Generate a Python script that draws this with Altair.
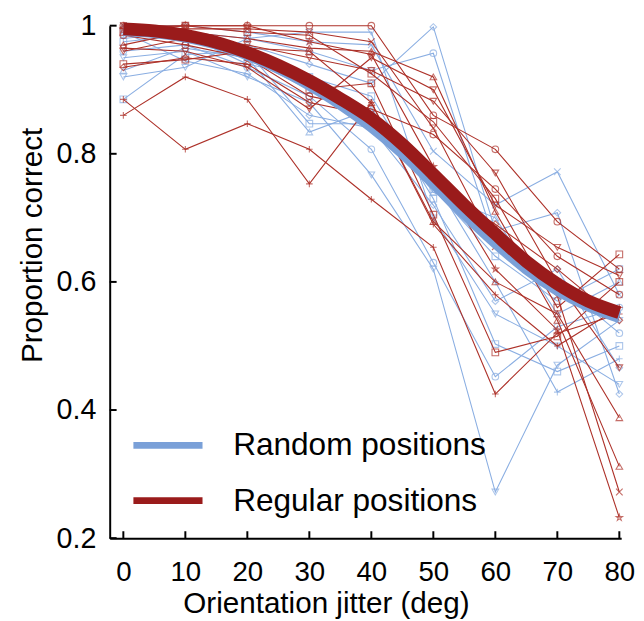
import altair as alt
import pandas as pd

# ---------------- data ----------------
jitter = [0, 10, 20, 30, 40, 50, 60, 70, 80]
group_names = ["Random positions", "Regular positions"]

random_subjects = [
    [0.985, 0.980, 0.970, 0.940, 0.910, 0.998, 0.680, 0.708, 0.425],
    [0.995, 0.990, 0.980, 0.960, 0.930, 0.957, 0.660, 0.600, 0.520],
    [1.000, 1.000, 0.990, 0.975, 0.970, 0.804, 0.720, 0.772, 0.580],
    [0.885, 0.955, 0.960, 0.847, 0.847, 0.745, 0.640, 0.570, 0.620],
    [0.930, 0.965, 0.950, 0.834, 0.870, 0.740, 0.700, 0.550, 0.600],
    [0.950, 0.960, 0.920, 0.880, 0.767, 0.620, 0.272, 0.470, 0.540],
    [0.960, 0.970, 0.935, 0.890, 0.807, 0.630, 0.452, 0.530, 0.560],
    [0.975, 0.985, 0.940, 0.920, 0.890, 0.730, 0.503, 0.460, 0.500],
    [0.980, 0.990, 0.950, 0.900, 0.850, 0.760, 0.600, 0.428, 0.480],
    [0.990, 0.945, 0.925, 0.860, 0.840, 0.720, 0.570, 0.620, 0.466],
    [0.920, 0.935, 0.980, 0.990, 0.990, 0.700, 0.550, 0.500, 0.440],
]

regular_subjects = [
    [1.000, 1.000, 1.000, 1.000, 1.000, 0.860, 0.807, 0.694, 0.620],
    [0.990, 1.000, 0.990, 0.985, 0.925, 0.850, 0.730, 0.560, 0.643],
    [0.970, 0.990, 0.980, 0.965, 0.960, 0.920, 0.710, 0.540, 0.312],
    [0.960, 0.980, 0.970, 0.950, 0.930, 0.882, 0.770, 0.600, 0.466],
    [0.860, 0.920, 0.885, 0.753, 0.880, 0.690, 0.580, 0.500, 0.560],
    [0.885, 0.807, 0.847, 0.807, 0.729, 0.654, 0.425, 0.520, 0.550],
    [1.000, 0.995, 0.995, 0.990, 0.975, 0.840, 0.655, 0.578, 0.272],
    [0.995, 1.000, 1.000, 0.975, 0.955, 0.780, 0.620, 0.525, 0.232],
    [0.940, 0.947, 0.960, 0.900, 0.910, 0.705, 0.490, 0.515, 0.600],
    [0.985, 0.970, 0.950, 0.890, 0.870, 0.830, 0.745, 0.640, 0.580],
    [0.935, 0.950, 0.940, 0.880, 0.860, 0.750, 0.690, 0.620, 0.540],
    [0.965, 0.960, 0.935, 0.870, 0.950, 0.900, 0.720, 0.654, 0.610],
    [1.000, 0.975, 0.965, 0.960, 0.880, 0.694, 0.600, 0.550, 0.388],
]

fit_jitter = [0, 5, 10, 15, 20, 25, 30, 35, 40, 45, 50, 55, 60, 65, 70, 75, 80]
fit_random = [0.993, 0.990, 0.983, 0.972, 0.955, 0.934, 0.908, 0.878, 0.843,
              0.802, 0.755, 0.707, 0.662, 0.621, 0.588, 0.563, 0.545]
fit_regular = [0.995, 0.992, 0.985, 0.974, 0.958, 0.938, 0.914, 0.886, 0.855,
               0.815, 0.768, 0.720, 0.675, 0.632, 0.597, 0.570, 0.552]

x_ticks = [0, 10, 20, 30, 40, 50, 60, 70, 80]
y_ticks = [0.2, 0.4, 0.6, 0.8, 1.0]

# ---------------- styles ----------------
PLUS = "M-1,0L1,0M0,-1L0,1"
XMARK = "M-1,-1L1,1M-1,1L1,-1"
STAR = ("M0,-1L0.22,-0.31L0.95,-0.31L0.36,0.12L0.59,0.81L0,0.38L-0.59,0.81"
        "L-0.36,0.12L-0.95,-0.31L-0.22,-0.31Z")
marker_cycle = ["diamond", "circle", XMARK, "square", "triangle-up", "triangle-down",
                "circle", "square", PLUS, "diamond", "triangle-down", "triangle-up", STAR]
red_markers = ["circle", "square", "triangle-up", "triangle-down", PLUS, PLUS, XMARK,
               STAR, "square", "circle", "diamond", "triangle-down", "triangle-up"]

BLUE_THIN = "#8aaee2"
RED_THIN = "#ad3129"
BLUE_THICK = "#7aa0d8"
RED_THICK = "#9a1b1b"
FONT = "Liberation Sans"

rows = []
for gi, (g, subjects, mk) in enumerate([(group_names[0], random_subjects, marker_cycle),
                                        (group_names[1], regular_subjects, red_markers)]):
    for si, vals in enumerate(subjects):
        for x, v in zip(jitter, vals):
            rows.append({"group": g, "subject": f"{gi}-{si}", "marker": mk[si % len(mk)],
                         "jitter": x, "prop": v})
subj_df = pd.DataFrame(rows)

fit_rows = []
for g, vals in [(group_names[0], fit_random), (group_names[1], fit_regular)]:
    for x, v in zip(fit_jitter, vals):
        fit_rows.append({"group": g, "jitter": x, "prop": v})
fit_df = pd.DataFrame(fit_rows)

TOP = 14
LEFT = 103
W, H = 518, 519
xs = alt.Scale(domain=[-2.2, 80.3], nice=False, zero=False)
ys = alt.Scale(domain=[0.2, 1.0], nice=False, zero=False)

X = alt.X("jitter:Q", scale=xs,
          axis=alt.Axis(values=x_ticks, title="Orientation jitter (deg)", ticks=False,
                        labelPadding=21, titlePadding=2, grid=False, labelFontSize=28,
                        titleX=219, titleAnchor="middle"))
Y = alt.Y("prop:Q", scale=ys,
          axis=alt.Axis(values=y_ticks, format="~g", title="Proportion correct", ticks=False,
                        labelPadding=14, titlePadding=9, grid=False, labelFontSize=29,
                        titleFontSize=30, titleY=222, titleAnchor="middle"))

base = alt.Chart(subj_df)


def thin_layer(gname, color):
    d = base.transform_filter(alt.datum.group == gname)
    line = d.mark_line(strokeWidth=1.1, color=color, clip=False).encode(
        x=X, y=Y, detail="subject:N", order="jitter:Q")
    pts = d.mark_point(filled=False, size=45, strokeWidth=1.1, color=color, clip=False).encode(
        x="jitter:Q", y="prop:Q", shape=alt.Shape("marker:N", scale=None, legend=None))
    return line + pts


blue_thin = thin_layer(group_names[0], BLUE_THIN)
red_thin = thin_layer(group_names[1], RED_THIN)

color_scale = alt.Scale(domain=group_names, range=[BLUE_THICK, RED_THICK])
fit_base = alt.Chart(fit_df)
blue_fit = fit_base.transform_filter(alt.datum.group == group_names[0]).mark_line(
    strokeWidth=12, interpolate="monotone", strokeCap="butt").encode(
    x="jitter:Q", y="prop:Q", color=alt.Color("group:N", scale=color_scale, legend=None))
red_fit = fit_base.transform_filter(alt.datum.group == group_names[1]).mark_line(
    strokeWidth=13, interpolate="monotone", strokeCap="butt").encode(
    x="jitter:Q", y="prop:Q", color=alt.Color("group:N", scale=color_scale, legend=None))

# inward tick marks
xt = alt.Chart(pd.DataFrame({"t": x_ticks})).mark_rule(color="black", strokeWidth=2).encode(
    x="t:Q", y=alt.value(H), y2=alt.value(H - 7))
yt = alt.Chart(pd.DataFrame({"t": y_ticks})).mark_rule(color="black", strokeWidth=2).encode(
    y="t:Q", x=alt.value(0), x2=alt.value(7))

# manual legend
leg_df = pd.DataFrame({"group": group_names})
leg_rows = []
for i, gname in enumerate(group_names):
    yy = 447 - 8 - TOP + 56 * i
    d = alt.Chart(leg_df).transform_filter(alt.datum.group == gname)
    leg_rows.append(d.mark_rule(strokeWidth=7).encode(
        x=alt.value(24), x2=alt.value(94), y=alt.value(yy),
        color=alt.Color("group:N", scale=color_scale, legend=None)))
    leg_rows.append(d.mark_text(align="left", baseline="middle", fontSize=32, font=FONT,
                                color="black").encode(
        x=alt.value(125), y=alt.value(yy), text="group:N"))

chart = alt.layer(blue_thin, red_thin, blue_fit, red_fit, xt, yt, *leg_rows).properties(
    width=W, height=H,
    autosize=alt.AutoSizeParams(type="none"),
    padding={"left": LEFT, "top": TOP, "right": 15, "bottom": 80},
).configure_view(stroke=None).configure_axis(
    domainColor="black", domainWidth=2, labelFont=FONT, titleFont=FONT,
    labelFontSize=29, titleFontSize=30, labelColor="black", titleColor="black",
    titleFontWeight="normal",
)

chart.save("out.html", embed_options={"renderer": "svg", "actions": False})
